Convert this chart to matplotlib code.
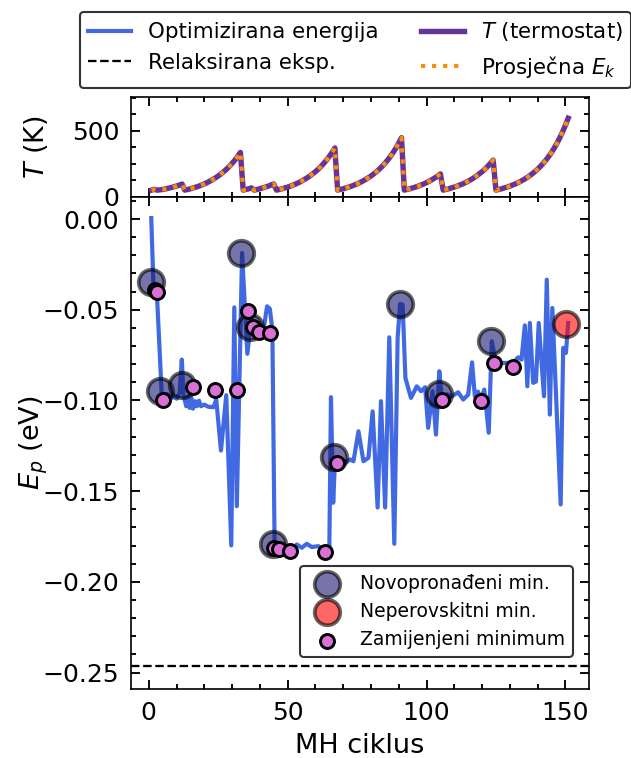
import matplotlib
matplotlib.use("Agg")
import matplotlib.pyplot as plt
from matplotlib.ticker import MultipleLocator

# Optimised energy along the minima-hopping run (cycle, eV)
cycle_opt = [0.9, 1.7, 2.9, 4.7, 6.5, 8.3, 10.1, 11.1, 11.9, 12.5, 13.5, 14.1, 14.7, 15.3,
             15.9, 16.7, 17.3, 18.1, 18.8, 20.0, 21.5, 23.3, 24.3, 26.0, 27.9, 29.7, 30.8,
             31.7, 33.6, 35.5, 36.6, 38.0, 40.5, 41.6, 42.6, 43.6, 44.5, 45.3, 46.6, 49.1,
             50.9, 52.0, 53.3, 55.1, 56.9, 58.7, 61.1, 63.5, 65.0, 65.6, 66.4, 67.1, 67.8,
             68.9, 70.7, 72.5, 73.7, 75.5, 77.3, 79.1, 80.6, 82.4, 83.6, 85.1, 86.6, 88.4,
             89.6, 90.5, 91.4, 92.4, 94.4, 96.5, 98.0, 99.5, 100.6, 102.2, 103.4, 104.6,
             105.5, 107.3, 109.1, 111.4, 113.2, 115.0, 116.4, 117.4, 118.5, 119.6, 120.8,
             122.4, 123.5, 125.0, 131.2, 133.0, 134.2, 135.4, 136.3, 137.2, 138.4, 139.4,
             140.4, 142.3, 143.3, 144.4, 145.3, 148.3, 149.2, 150.2, 151.0]
energy_opt = [0.0005, -0.0371, -0.0402, -0.0977, -0.0964, -0.0977, -0.0990, -0.0958, -0.0775,
              -0.0968, -0.1032, -0.0977, -0.1041, -0.0982, -0.1045, -0.1004, -0.1032, -0.1001,
              -0.1032, -0.1023, -0.1035, -0.1037, -0.0995, -0.1276, -0.0971, -0.1799, -0.0487,
              -0.1583, -0.0187, -0.0743, -0.0595, -0.0605, -0.0615, -0.0582, -0.0481, -0.0495,
              -0.0610, -0.1790, -0.1815, -0.1820, -0.1803, -0.1815, -0.1794, -0.1812, -0.1790,
              -0.1808, -0.1803, -0.1830, -0.1832, -0.0982, -0.1564, -0.1316, -0.1340, -0.1335,
              -0.1344, -0.1325, -0.1335, -0.1170, -0.1335, -0.1316, -0.1060, -0.1590, -0.1004,
              -0.1590, -0.0652, -0.1790, -0.0655, -0.0468, -0.0472, -0.0876, -0.0986, -0.0922,
              -0.0949, -0.0927, -0.1151, -0.0949, -0.1188, -0.0839, -0.0984, -0.0966, -0.0977,
              -0.0955, -0.0995, -0.0968, -0.0790, -0.0977, -0.0951, -0.0989, -0.0940, -0.1178,
              -0.0674, -0.0793, -0.0793, -0.0762, -0.0775, -0.0586, -0.0922, -0.0573, -0.0903,
              -0.0896, -0.0573, -0.0977, -0.0334, -0.1078, -0.0490, -0.1573, -0.0710, -0.0738,
              -0.0573]

# Energy of the relaxed experimental structure (eV)
relaxed_exp_energy = -0.2465

# Newly found minima
new_min_cycle = [0.9, 4.0, 11.8, 33.1, 36.5, 44.8, 66.6, 90.5, 104.6, 123.2]
new_min_energy = [-0.0349, -0.0947, -0.0913, -0.0187, -0.0595, -0.1791, -0.1313, -0.0468,
                  -0.0964, -0.0670]

# Non-perovskite minimum
nonperov_cycle = [150.2]
nonperov_energy = [-0.0577]

# Replaced minima
repl_cycle = [2.1, 2.9, 5.0, 15.9, 23.9, 31.7, 35.7, 37.7, 39.7, 43.8, 45.2, 46.8, 50.8,
              63.6, 67.7, 105.5, 119.5, 124.3, 131.2]
repl_energy = [-0.0389, -0.0402, -0.1000, -0.0925, -0.0945, -0.0945, -0.0509, -0.0595,
               -0.0623, -0.0628, -0.1812, -0.1821, -0.1827, -0.1835, -0.1344, -0.1000,
               -0.1004, -0.0793, -0.0817]

# Thermostat temperature per cycle (K)
temp_cycle = list(range(1, 152))
temperature_K = [50, 56, 50, 52, 55, 59, 64, 69, 75, 81, 88, 96, 50,
                 55, 60, 67, 73, 80, 89, 97, 107, 118, 130, 143, 157, 173, 190, 209, 230,
                 253, 278, 306, 336, 50,
                 55, 60, 67, 50,
                 55, 60, 67, 73, 80, 89, 97, 50,
                 55, 60, 67, 73, 80, 89, 97, 107, 118, 130, 143, 157, 173, 190, 209, 230,
                 253, 278, 306, 336, 370, 50,
                 55, 60, 67, 73, 80, 89, 97, 107, 118, 130, 143, 157, 173, 190, 209, 230,
                 253, 278, 306, 336, 370, 407, 448, 50,
                 55, 60, 67, 73, 80, 89, 97, 107, 118, 130, 143, 157, 173, 50,
                 55, 60, 67, 73, 80, 89, 97, 107, 118, 130, 143, 157, 173, 190, 209, 230,
                 253, 278, 50,
                 55, 60, 67, 73, 80, 89, 97, 107, 118, 130, 143, 157, 173, 190, 209, 230,
                 253, 278, 306, 336, 370, 407, 448, 493, 542, 596]
# Average kinetic energy expressed as temperature (K)
ek_avg_K = list(temperature_K)

W, H, DPI = 632, 758, 150
fig = plt.figure(figsize=(W / DPI, H / DPI), dpi=DPI)

left, right = 130.7, 589.0
top_t, bot_t = 97.3, 196.7
bot_m = 689.3
ax_t = fig.add_axes([left / W, 1 - bot_t / H, (right - left) / W, (bot_t - top_t) / H])
ax = fig.add_axes([left / W, 1 - bot_m / H, (right - left) / W, (bot_m - bot_t) / H])

# Temperature panel
l_T, = ax_t.plot(temp_cycle, temperature_K, color="#663399", lw=2.6, label="$T$ (termostat)")
l_E, = ax_t.plot(temp_cycle, ek_avg_K, color="#ff8c00", lw=2.0, ls=":",
                 label="Prosječna $E_k$")
ax_t.set_ylim(0, 755)
ax_t.yaxis.set_major_locator(MultipleLocator(500))
ax_t.yaxis.set_minor_locator(MultipleLocator(125))
ax_t.set_ylabel("$T$ (K)", fontsize=13)
ax_t.tick_params(labelbottom=False)

# Energy panel
l_opt, = ax.plot(cycle_opt, energy_opt, color="royalblue", lw=2.0, zorder=2,
                 label="Optimizirana energija")
l_rel = ax.axhline(relaxed_exp_energy, color="black", lw=1.1, ls="--",
                   label="Relaksirana eksp.")
s_new = ax.scatter(new_min_cycle, new_min_energy, s=150, color="midnightblue", alpha=0.6,
                   edgecolors="black", linewidths=1.8, zorder=3, label="Novopronađeni min.")
s_np = ax.scatter(nonperov_cycle, nonperov_energy, s=150, color="red", alpha=0.6,
                  edgecolors="black", linewidths=1.8, zorder=3, label="Neperovskitni min.")
s_rep = ax.scatter(repl_cycle, repl_energy, s=45, color="orchid", edgecolors="black",
                   linewidths=1.4, zorder=4, label="Zamijenjeni minimum")
ax.set_ylim(-0.2592, 0.0123)
ax.yaxis.set_major_locator(MultipleLocator(0.05))
ax.yaxis.set_minor_locator(MultipleLocator(0.01))
ax.set_xlabel("MH ciklus", fontsize=13)
ax.set_ylabel("$E_p$ (eV)", fontsize=13)

for a in (ax_t, ax):
    a.set_xlim(-6.5, 158.5)
    a.xaxis.set_major_locator(MultipleLocator(50))
    a.xaxis.set_minor_locator(MultipleLocator(10))
    a.tick_params(which="both", direction="in", top=True, right=True, labelsize=12,
                  pad=5.5, width=0.9)
    a.tick_params(which="major", length=4.5)
    a.tick_params(which="minor", length=2.6)
    a.yaxis.set_label_coords(-0.175, 0.5)

ax.legend(handles=[s_new, s_np, s_rep], loc="lower right", bbox_to_anchor=(0.965, 0.0656),
          borderaxespad=0, fontsize=9, edgecolor="black", scatterpoints=1)

fig.legend(handles=[l_opt, l_rel, l_T, l_E], ncol=2, loc="lower center",
           bbox_to_anchor=(355.5 / W, 1 - 88.3 / H), borderaxespad=0, fontsize=10.25,
           edgecolor="black")

fig.savefig("out.png", dpi=DPI)
